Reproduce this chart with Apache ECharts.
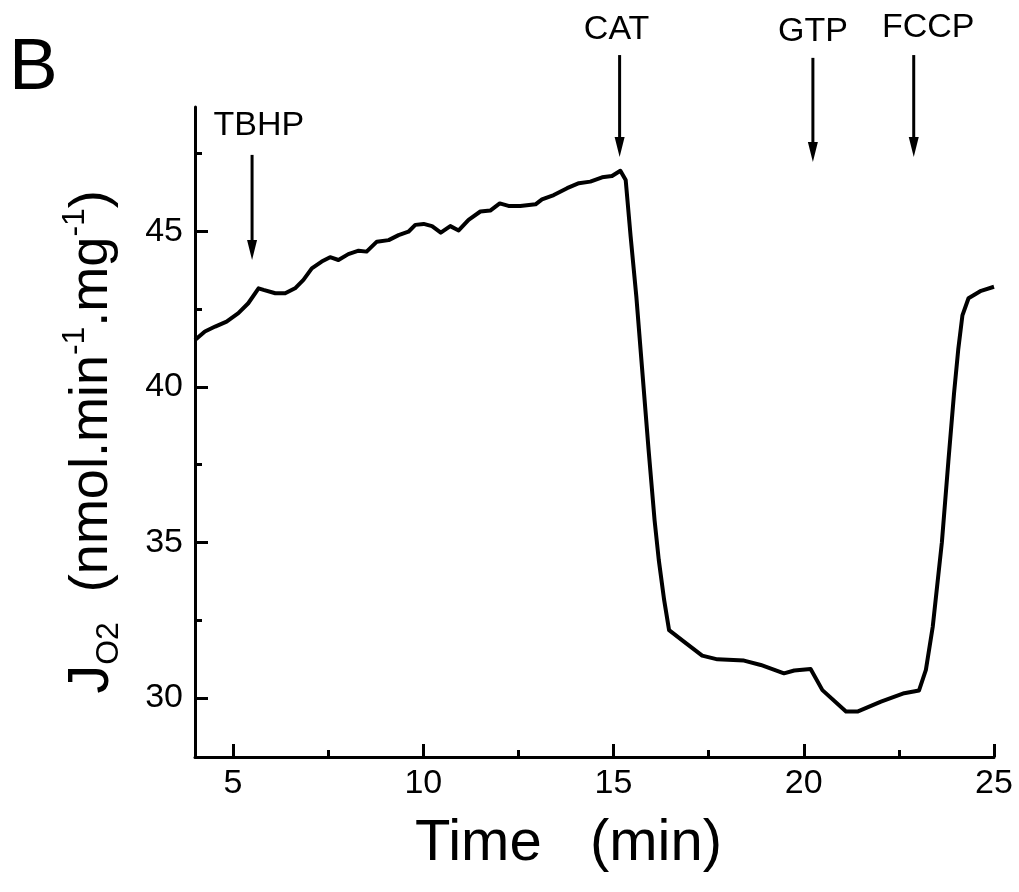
<!DOCTYPE html>
<html>
<head>
<meta charset="utf-8">
<script src="https://cdn.jsdelivr.net/npm/echarts@6/dist/echarts.min.js"></script>
<style>
  html, body { margin: 0; padding: 0; background: #fff; }
  #main { width: 1019px; height: 892px; }
</style>
</head>
<body>
<div id="main"></div>
<script>
// time (min) and oxygen flux J_O2
var times = [4.0, 4.26, 4.53, 4.83, 5.14, 5.40, 5.67, 5.80, 6.11, 6.37, 6.63, 6.85, 7.07, 7.33, 7.55, 7.77, 8.03, 8.30, 8.51, 8.78, 9.09, 9.35, 9.61, 9.79, 10.01, 10.23, 10.46, 10.71, 10.93, 11.19, 11.50, 11.76, 12.01, 12.24, 12.55, 12.95, 13.12, 13.43, 13.78, 14.09, 14.39, 14.70, 14.96, 15.18, 15.32, 15.45, 15.60, 15.75, 15.92, 16.08, 16.19, 16.33, 16.46, 16.85, 17.33, 17.73, 18.43, 18.87, 19.48, 19.75, 20.18, 20.49, 21.11, 21.41, 22.03, 22.64, 23.03, 23.21, 23.39, 23.63, 23.80, 23.95, 24.06, 24.17, 24.33, 24.66, 25.0]
var jo2 = [41.51, 41.78, 41.94, 42.10, 42.37, 42.69, 43.17, 43.12, 43.01, 43.01, 43.17, 43.44, 43.81, 44.03, 44.17, 44.08, 44.27, 44.38, 44.35, 44.67, 44.72, 44.88, 44.99, 45.21, 45.24, 45.17, 44.96, 45.17, 45.03, 45.37, 45.64, 45.67, 45.90, 45.82, 45.82, 45.87, 46.03, 46.17, 46.39, 46.55, 46.60, 46.74, 46.78, 46.95, 46.65, 44.83, 42.90, 40.60, 38.00, 35.70, 34.43, 33.15, 32.18, 31.81, 31.36, 31.24, 31.20, 31.06, 30.79, 30.88, 30.93, 30.25, 29.56, 29.56, 29.88, 30.15, 30.24, 30.90, 32.29, 35.00, 37.60, 39.80, 41.20, 42.30, 42.85, 43.09, 43.22]

// additions (arrows): name, x, arrow top / tip, label position
var addNames = ['TBHP', 'CAT', 'GTP', 'FCCP']
var addX = [5.5, 15.16, 20.24, 22.89]
var addTop = [47.46, 50.67, 50.58, 50.67]
var addTip = [44.08, 47.39, 47.23, 47.39]
var addLabelX = [5.68, 15.08, 20.24, 23.27]
var addLabelY = [48.39, 51.48, 51.41, 51.54]

// ticks
var xMajor = [5, 10, 15, 20, 25]
var xMinor = [7.5, 12.5, 17.5, 22.5]
var yMajor = [30, 35, 40, 45]
var yMinor = [32.5, 37.5, 42.5, 47.5]

var FONT = "'Liberation Sans', Arial, sans-serif"

var lineData = times.map(function (t, i) { return [t, jo2[i]] })
var arrowData = addX.map(function (x, i) {
  return [x, addTop[i], addTip[i], addLabelX[i], addLabelY[i]]
})

var chart = echarts.init(document.getElementById('main'))

var baseAxis = {
  type: 'value',
  axisLine: { show: true, lineStyle: { color: '#000', width: 3 } },
  splitLine: { show: false }
}

var option = {
  animation: false,
  backgroundColor: '#fff',
  title: {
    text: 'B',
    left: 4,
    top: 27,
    textStyle: { fontFamily: FONT, fontSize: 73, fontWeight: 'normal', color: '#000' }
  },
  grid: { left: 195, right: 25, top: 107, bottom: 135 },
  xAxis: [
    Object.assign({}, baseAxis, {
      min: 4,
      max: 25,
      name: 'Time   (min)',
      nameLocation: 'middle',
      nameGap: 58,
      nameTextStyle: { fontFamily: FONT, fontSize: 58, color: '#000', padding: [0, 52, 0, 0] },
      axisTick: { show: true, inside: true, length: 13, customValues: xMajor, lineStyle: { color: '#000', width: 3 } },
      axisLabel: { customValues: xMajor, margin: 10, fontFamily: FONT, fontSize: 34, color: '#000' }
    }),
    Object.assign({}, baseAxis, {
      min: 4,
      max: 25,
      position: 'bottom',
      axisLine: { show: false },
      axisTick: { show: true, inside: true, length: 7, customValues: xMinor, lineStyle: { color: '#000', width: 3 } },
      axisLabel: { show: false }
    })
  ],
  yAxis: [
    Object.assign({}, baseAxis, {
      min: 28.1,
      max: 49,
      name: '{j|J}{sub|O2}{t|  (nmol.min}{sup|-1}{t|.mg}{sup|-1}{t|)}',
      nameLocation: 'middle',
      nameGap: 68,
      nameTextStyle: {
        color: '#000',
        padding: [0, 20, 0, 0],
        rich: {
          j: { fontFamily: FONT, fontSize: 58, lineHeight: 70, verticalAlign: 'middle' },
          t: { fontFamily: FONT, fontSize: 54, lineHeight: 70, verticalAlign: 'middle' },
          sub: { fontFamily: FONT, fontSize: 32, lineHeight: 70, verticalAlign: 'bottom', padding: [0, 0, 2, 0] },
          sup: { fontFamily: FONT, fontSize: 32, lineHeight: 70, verticalAlign: 'top', padding: [2, 0, 0, 0] }
        }
      },
      axisTick: { show: true, inside: true, length: 13, customValues: yMajor, lineStyle: { color: '#000', width: 3 } },
      axisLabel: { customValues: yMajor, margin: 12, fontFamily: FONT, fontSize: 34, color: '#000' }
    }),
    Object.assign({}, baseAxis, {
      min: 28.1,
      max: 49,
      position: 'left',
      axisLine: { show: false },
      axisTick: { show: true, inside: true, length: 7, customValues: yMinor, lineStyle: { color: '#000', width: 3 } },
      axisLabel: { show: false }
    })
  ],
  series: [
    {
      type: 'line',
      data: lineData,
      showSymbol: false,
      lineStyle: { color: '#000', width: 4, join: 'round' },
      silent: true
    },
    {
      type: 'custom',
      data: arrowData,
      silent: true,
      clip: false,
      renderItem: function (params, api) {
        var top = api.coord([api.value(0), api.value(1)])
        var tip = api.coord([api.value(0), api.value(2)])
        var lab = api.coord([api.value(3), api.value(4)])
        return {
          type: 'group',
          children: [
            {
              type: 'line',
              shape: { x1: top[0], y1: top[1], x2: tip[0], y2: tip[1] - 12 },
              style: { stroke: '#000', lineWidth: 3 }
            },
            {
              type: 'polygon',
              shape: { points: [[tip[0] - 5, tip[1] - 20], [tip[0] + 5, tip[1] - 20], [tip[0], tip[1]]] },
              style: { fill: '#000' }
            },
            {
              type: 'text',
              x: lab[0],
              y: lab[1],
              style: {
                text: addNames[params.dataIndex],
                fontFamily: FONT,
                fontSize: 34,
                fill: '#000',
                align: 'center',
                verticalAlign: 'middle'
              }
            }
          ]
        }
      }
    }
  ]
}

chart.setOption(option)
</script>
</body>
</html>
